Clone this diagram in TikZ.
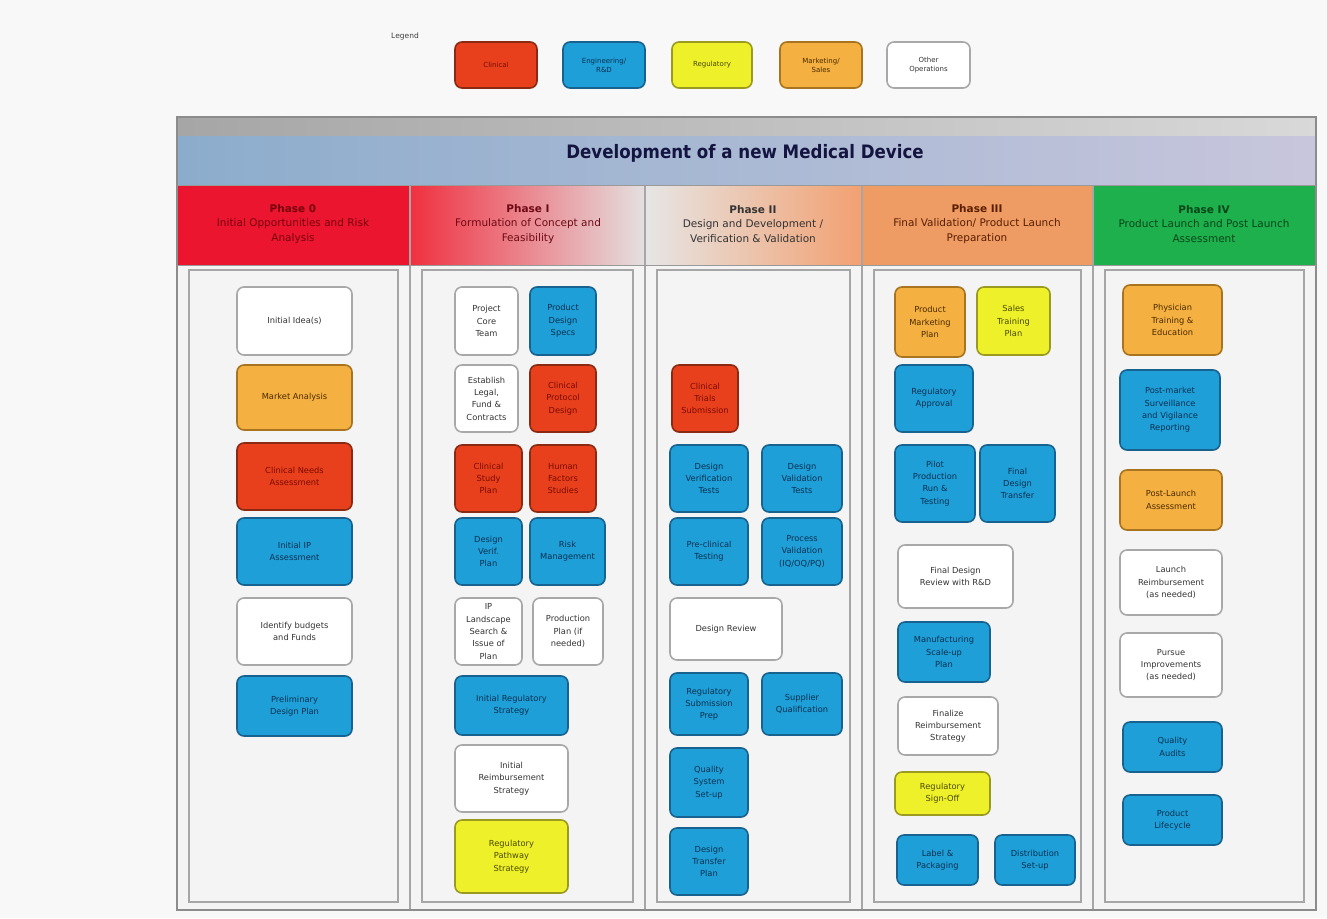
\documentclass[tikz,border=0pt]{standalone}
\usepackage{fontspec}
\setmainfont{DejaVu Sans}
\definecolor{bgc}{HTML}{F8F8F8}
\definecolor{panel}{HTML}{F4F4F4}
\definecolor{cred}{HTML}{E8401C}
\definecolor{credb}{HTML}{8A2A12}
\definecolor{credt}{HTML}{7A0A00}
\definecolor{cblue}{HTML}{1E9FD8}
\definecolor{cblueb}{HTML}{17628E}
\definecolor{cbluet}{HTML}{0A3050}
\definecolor{cyel}{HTML}{EEF02A}
\definecolor{cyelb}{HTML}{9A9A20}
\definecolor{cyelt}{HTML}{4A4A00}
\definecolor{corg}{HTML}{F4B040}
\definecolor{corgb}{HTML}{A87420}
\definecolor{corgt}{HTML}{4A2A00}
\definecolor{cwhb}{HTML}{A8A8A8}
\definecolor{titlec}{HTML}{141440}
\definecolor{bandL}{HTML}{8CACCC}
\definecolor{bandM}{HTML}{B8B4E2}
\definecolor{bandR}{HTML}{C8C6DC}
\definecolor{ph0}{HTML}{EC1530}
\definecolor{ph1L}{HTML}{F03040}
\definecolor{ph1R}{HTML}{E4E0E0}
\definecolor{ph2L}{HTML}{E6E6E6}
\definecolor{ph2R}{HTML}{F2A070}
\definecolor{ph3}{HTML}{EE9C64}
\definecolor{ph4}{HTML}{1EB04C}
\definecolor{pt0}{HTML}{78000A}
\definecolor{pt1}{HTML}{6E0A14}
\definecolor{pt3}{HTML}{5A1E00}
\definecolor{pt4}{HTML}{054619}
\newcommand\medbox[7]{%
 \pgfmathsetmacro\mbw{#5-#3}\pgfmathsetmacro\mbh{#6-#4}%
 \pgfmathsetmacro\mbx{(#3+#5)/2}\pgfmathsetmacro\mby{(#4+#6)/2}%
 \node[#2, minimum width=\mbw pt, minimum height=\mbh pt] (#1) at (\mbx,\mby) {#7};}
\tikzset{
 base/.style={rounded corners=7pt, line width=1.6pt, align=center, inner sep=1.5pt,
   font=\fontsize{8.3}{12.3}\selectfont},
 redbox/.style={base, fill=cred, draw=credb, text=credt},
 bluebox/.style={base, fill=cblue, draw=cblueb, text=cbluet},
 yelbox/.style={base, fill=cyel, draw=cyelb, text=cyelt},
 orgbox/.style={base, fill=corg, draw=corgb, text=corgt},
 whbox/.style={base, fill=white, draw=cwhb, text=black!80},
 leg/.style={font=\fontsize{7}{9}\selectfont},
 phasetxt/.style={align=center, font=\fontsize{10.5}{14.5}\selectfont},
 colline/.style={draw=black!35, line width=1.1pt},
}
\begin{document}
\begin{tikzpicture}[x=1pt,y=-1pt]
\path[use as bounding box] (0,0) rectangle (1327,918);
\fill[bgc] (0,0) rectangle (1327,918);

% legend
\node[font=\fontsize{7.5}{9}\selectfont, text=black!75] (legend) at (405,36) {Legend};
\medbox{l1}{redbox,leg}{455}{42}{537}{88}{Clinical}
\medbox{l2}{bluebox,leg}{563}{42}{645}{88}{Engineering/\\ R\&D}
\medbox{l3}{yelbox,leg}{672}{42}{752}{88}{Regulatory}
\medbox{l4}{orgbox,leg}{780}{42}{862}{88}{Marketing/\\ Sales}
\medbox{l5}{whbox,leg}{887}{42}{970}{88}{Other\\ Operations}

% frame and title band
\fill[panel] (177,265) rectangle (1316,910);
\shade[left color=black!35, right color=black!15] (177,117) rectangle (1316,136);
\shade[left color=bandL, middle color=bandM, right color=bandR] (177,136) rectangle (1316,185);
\node[font=\bfseries\fontsize{18.5}{21}\selectfont, text=titlec, xscale=0.9] (title) at (745,153) {Development of a new Medical Device};

% phase headers
\fill[ph0] (177,185) rectangle (410,265);
\shade[left color=ph1L, right color=ph1R] (410,185) rectangle (645,265);
\shade[left color=ph2L, right color=ph2R] (645,185) rectangle (862,265);
\fill[ph3] (862,185) rectangle (1093,265);
\fill[ph4] (1093,185) rectangle (1316,265);
\node[phasetxt, text=pt0] (p0) at (293,224) {\textbf{Phase 0}\\ Initial Opportunities and Risk\\ Analysis};
\node[phasetxt, text=pt1] (p1) at (528,224) {\textbf{Phase I}\\ Formulation of Concept and\\ Feasibility};
\node[phasetxt, text=black!80] (p2) at (753,224) {\textbf{Phase II}\\ Design and Development /\\ Verification \& Validation};
\node[phasetxt, text=pt3] (p3) at (977,224) {\textbf{Phase III}\\ Final Validation/ Product Launch\\ Preparation};
\node[phasetxt, text=pt4] (p4) at (1204,224) {\textbf{Phase IV}\\ Product Launch and Post Launch\\ Assessment};

% columns
\foreach \xa/\xb in {177/410,410/645,645/862,862/1093,1093/1316}{
  \draw[colline] (\xa+12,270) rectangle (\xb-12,902);
  \draw[colline] (\xb,185) -- (\xb,910);
}
\draw[draw=black!45, line width=1.6pt] (177,117) rectangle (1316,910);
\draw[draw=black!40, line width=1pt] (177,185) -- (1316,185) (177,265) -- (1316,265);

% Phase 0
\medbox{a1}{whbox}{237}{287}{352}{355}{Initial Idea(s)}
\medbox{a2}{orgbox}{237}{365}{352}{430}{Market Analysis}
\medbox{a3}{redbox}{237}{443}{352}{510}{Clinical Needs\\ Assessment}
\medbox{a4}{bluebox}{237}{518}{352}{585}{Initial IP\\ Assessment}
\medbox{a5}{whbox}{237}{598}{352}{665}{Identify budgets\\ and Funds}
\medbox{a6}{bluebox}{237}{676}{352}{736}{Preliminary\\ Design Plan}

% Phase I
\medbox{b1}{whbox}{455}{287}{518}{355}{Project\\ Core\\ Team}
\medbox{b2}{bluebox}{530}{287}{596}{355}{Product\\ Design\\ Specs}
\medbox{b3}{whbox}{455}{365}{518}{432}{Establish\\ Legal,\\ Fund \&\\ Contracts}
\medbox{b4}{redbox}{530}{365}{596}{432}{Clinical\\ Protocol\\ Design}
\medbox{b5}{redbox}{455}{445}{522}{512}{Clinical\\ Study\\ Plan}
\medbox{b6}{redbox}{530}{445}{596}{512}{Human\\ Factors\\ Studies}
\medbox{b7}{bluebox}{455}{518}{522}{585}{Design\\ Verif.\\ Plan}
\medbox{b8}{bluebox}{530}{518}{605}{585}{Risk\\ Management}
\medbox{b9}{whbox}{455}{598}{522}{665}{IP\\ Landscape\\ Search \&\\ Issue of\\ Plan}
\medbox{b10}{whbox}{533}{598}{603}{665}{Production\\ Plan (if\\ needed)}
\medbox{b11}{bluebox}{455}{676}{568}{735}{Initial Regulatory\\ Strategy}
\medbox{b12}{whbox}{455}{745}{568}{812}{Initial\\ Reimbursement\\ Strategy}
\medbox{b13}{yelbox}{455}{820}{568}{893}{Regulatory\\ Pathway\\ Strategy}

% Phase II
\medbox{c1}{redbox}{672}{365}{738}{432}{Clinical\\ Trials\\ Submission}
\medbox{c2}{bluebox}{670}{445}{748}{512}{Design\\ Verification\\ Tests}
\medbox{c3}{bluebox}{762}{445}{842}{512}{Design\\ Validation\\ Tests}
\medbox{c4}{bluebox}{670}{518}{748}{585}{Pre-clinical\\ Testing}
\medbox{c5}{bluebox}{762}{518}{842}{585}{Process\\ Validation\\ (IQ/OQ/PQ)}
\medbox{c6}{whbox}{670}{598}{782}{660}{Design Review}
\medbox{c7}{bluebox}{670}{673}{748}{735}{Regulatory\\ Submission\\ Prep}
\medbox{c8}{bluebox}{762}{673}{842}{735}{Supplier\\ Qualification}
\medbox{c9}{bluebox}{670}{748}{748}{817}{Quality\\ System\\ Set-up}
\medbox{c10}{bluebox}{670}{828}{748}{895}{Design\\ Transfer\\ Plan}

% Phase III
\medbox{d1}{orgbox}{895}{287}{965}{357}{Product\\ Marketing\\ Plan}
\medbox{d2}{yelbox}{977}{287}{1050}{355}{Sales\\ Training\\ Plan}
\medbox{d3}{bluebox}{895}{365}{973}{432}{Regulatory\\ Approval}
\medbox{d4}{bluebox}{895}{445}{975}{522}{Pilot\\ Production\\ Run \&\\ Testing}
\medbox{d5}{bluebox}{980}{445}{1055}{522}{Final\\ Design\\ Transfer}
\medbox{d6}{whbox}{898}{545}{1013}{608}{Final Design\\ Review with R\&D}
\medbox{d7}{bluebox}{898}{622}{990}{682}{Manufacturing\\ Scale-up\\ Plan}
\medbox{d8}{whbox}{898}{697}{998}{755}{Finalize\\ Reimbursement\\ Strategy}
\medbox{d9}{yelbox}{895}{772}{990}{815}{Regulatory\\ Sign-Off}
\medbox{d10}{bluebox}{897}{835}{978}{885}{Label \&\\ Packaging}
\medbox{d11}{bluebox}{995}{835}{1075}{885}{Distribution\\ Set-up}

% Phase IV
\medbox{e1}{orgbox}{1123}{285}{1222}{355}{Physician\\ Training \&\\ Education}
\medbox{e2}{bluebox}{1120}{370}{1220}{450}{Post-market\\ Surveillance\\ and Vigilance\\ Reporting}
\medbox{e3}{orgbox}{1120}{470}{1222}{530}{Post-Launch\\ Assessment}
\medbox{e4}{whbox}{1120}{550}{1222}{615}{Launch\\ Reimbursement\\ (as needed)}
\medbox{e5}{whbox}{1120}{633}{1222}{697}{Pursue\\ Improvements\\ (as needed)}
\medbox{e6}{bluebox}{1123}{722}{1222}{772}{Quality\\ Audits}
\medbox{e7}{bluebox}{1123}{795}{1222}{845}{Product\\ Lifecycle}
\end{tikzpicture}
\end{document}
